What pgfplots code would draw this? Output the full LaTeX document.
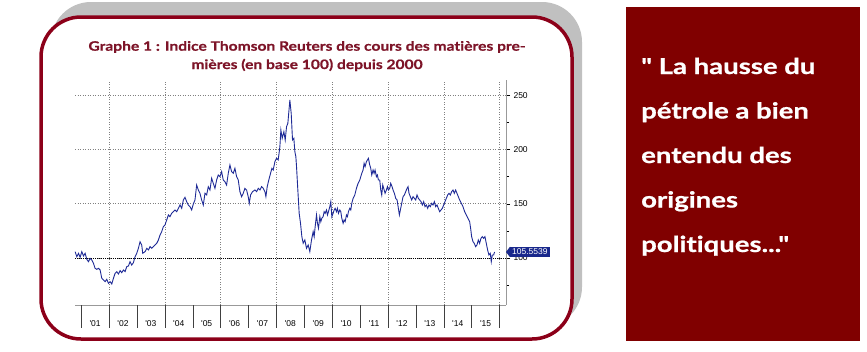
\documentclass[border=0pt]{standalone}
\usepackage{fontspec}
\usepackage{pgfplots}
\pgfplotsset{compat=1.18}
\setmainfont{Liberation Sans}
\newfontfamily\gill{Lato}[FakeStretch=1.2, Ligatures=NoCommon, BoldFeatures={FakeBold=0.6}]
\newfontfamily\gillq{Lato}[FakeStretch=1.25, Ligatures=NoCommon, BoldFeatures={FakeBold=0.8}]
\newfontfamily\tickfont{Liberation Sans}
\definecolor{framecol}{RGB}{140,0,25}
\definecolor{titlecol}{RGB}{125,20,40}
\definecolor{boxred}{RGB}{128,0,0}
\definecolor{shadowcol}{RGB}{192,192,192}
\definecolor{linecol}{RGB}{30,42,150}
\definecolor{tagblue}{RGB}{25,40,140}
\begin{document}
\begin{tikzpicture}
\useasboundingbox (0,0) rectangle (867pt,-351pt);
\fill[shadowcol, rounded corners=40pt] (51pt,-2pt) rectangle (582pt,-327pt);
\draw[framecol, line width=3.5pt, fill=white, rounded corners=40pt] (41pt,-17pt) rectangle (572pt,-339pt);
\fill[boxred] (626pt,-7pt) rectangle (860pt,-341pt);
\node[titlecol, font=\gill\bfseries\fontsize{13}{15}\selectfont, anchor=base, inner sep=0pt] at (307pt,-50.7pt) {Graphe 1 : Indice Thomson Reuters des cours des matières pre-};
\node[titlecol, font=\gill\bfseries\fontsize{13}{15}\selectfont, anchor=base, inner sep=0pt] at (307pt,-69pt) {mières (en base 100) depuis 2000};
\begin{scope}[every node/.style={white, font=\gillq\bfseries\fontsize{22}{26}\selectfont, anchor=base west, inner sep=0pt}]
\node at (641pt,-74pt) {" La hausse du};
\node at (641pt,-118.5pt) {pétrole a bien};
\node at (641pt,-163pt) {entendu des};
\node at (641pt,-207.5pt) {origines};
\node at (641pt,-252pt) {politiques..."};
\end{scope}
\begin{axis}[
  at={(75pt,-305pt)}, anchor=south west, scale only axis,
  width=431pt, height=225pt,
  xmin=2000.78, xmax=2016.23, ymin=56.7, ymax=263.9,
  clip=false,
  axis x line*=bottom, axis y line*=right,
  axis line style={gray!80, -},
  tick align=outside,
  major tick length=4pt, minor tick length=3pt,
  ytick={100,150,200,250},
  minor ytick={75,125,175,225},
  ymajorgrids,
  major grid style={gray, dash pattern=on 1pt off 1.5pt},
  ytick style={black},
  minor tick style={gray},
  xtick={2001.5,2002.5,2003.5,2004.5,2005.5,2006.5,2007.5,2008.5,2009.5,2010.5,2011.5,2012.5,2013.5,2014.5,2015.5},
  xticklabels={\textquotesingle01,\textquotesingle02,\textquotesingle03,\textquotesingle04,\textquotesingle05,\textquotesingle06,\textquotesingle07,\textquotesingle08,\textquotesingle09,\textquotesingle10,\textquotesingle11,\textquotesingle12,\textquotesingle13,\textquotesingle14,\textquotesingle15},
  xtick style={draw=none},
  xticklabel style={font=\tickfont\fontsize{8.5}{10}\selectfont, yshift=-8pt},
  yticklabel style={font=\tickfont\fontsize{8.5}{10}\selectfont},
  /pgf/number format/assume math mode=true,
]
\pgfplotsinvokeforeach{2002,2004,...,2016}{\draw[gray, dash pattern=on 1pt off 1.5pt] (axis cs:#1,56.7) -- (axis cs:#1,263.9);}
\pgfplotsinvokeforeach{2001,...,2016}{\draw[gray!50!black] (axis cs:#1,56.7) -- ++(0pt,-23pt);}
\draw[black, dash pattern=on 1pt off 1pt] (axis cs:2000.78,100) -- (axis cs:2016.23,100);
\addplot[linecol, line width=0.9pt] coordinates {
(2000.785,105.83) (2000.845,101.23) (2000.905,104.30) (2000.964,100.61) (2001.024,105.83) (2001.084,101.84) (2001.143,104.30) (2001.203,98.77) (2001.263,96.62) (2001.322,99.69) (2001.382,98.16) (2001.442,95.09) (2001.501,90.48) (2001.561,89.56) (2001.621,90.48) (2001.680,88.95) (2001.740,81.28) (2001.800,79.74) (2001.859,78.21) (2001.919,80.36) (2001.979,76.67) (2002.038,78.21) (2002.098,76.06) (2002.158,81.28) (2002.217,85.88) (2002.277,87.42) (2002.337,85.27) (2002.396,88.34) (2002.456,86.49) (2002.516,88.95) (2002.575,87.42) (2002.635,92.02) (2002.695,92.63) (2002.754,96.62) (2002.814,93.55) (2002.874,95.70) (2002.933,101.23) (2002.993,104.30) (2003.052,108.90) (2003.112,115.04) (2003.172,111.97) (2003.208,104.30) (2003.291,105.83) (2003.351,108.90) (2003.411,107.37) (2003.470,110.43) (2003.530,108.90) (2003.590,110.43) (2003.649,111.97) (2003.709,113.50) (2003.769,116.57) (2003.828,121.18) (2003.888,124.25) (2003.948,128.85) (2004.007,130.39) (2004.067,134.99) (2004.127,139.59) (2004.186,138.06) (2004.246,141.13) (2004.306,142.66) (2004.365,144.20) (2004.425,142.66) (2004.485,145.73) (2004.544,148.80) (2004.604,145.73) (2004.664,153.41) (2004.723,155.86) (2004.783,151.87) (2004.842,148.80) (2004.902,147.27) (2004.962,144.20) (2005.021,149.72) (2005.081,153.41) (2005.141,167.22) (2005.200,162.61) (2005.260,159.54) (2005.320,153.41) (2005.379,148.80) (2005.439,159.54) (2005.499,158.01) (2005.558,165.68) (2005.618,162.61) (2005.678,173.36) (2005.737,168.75) (2005.797,164.15) (2005.857,171.82) (2005.916,176.42) (2005.976,174.89) (2006.036,179.49) (2006.095,171.82) (2006.155,170.29) (2006.215,167.22) (2006.274,177.96) (2006.334,185.63) (2006.394,179.49) (2006.453,177.96) (2006.513,182.56) (2006.573,174.89) (2006.632,171.82) (2006.692,161.08) (2006.752,156.47) (2006.811,159.54) (2006.871,164.15) (2006.931,162.61) (2006.990,156.47) (2007.026,150.34) (2007.074,158.01) (2007.145,161.08) (2007.229,162.61) (2007.288,161.08) (2007.348,164.15) (2007.408,162.61) (2007.467,165.68) (2007.527,164.15) (2007.587,161.08) (2007.623,156.47) (2007.670,165.68) (2007.742,173.36) (2007.790,177.96) (2007.838,182.56) (2007.885,181.03) (2007.945,188.70) (2008.005,191.77) (2008.064,190.24) (2008.124,202.51) (2008.160,217.86) (2008.207,210.19) (2008.267,216.33) (2008.315,208.65) (2008.363,220.93) (2008.410,224.00) (2008.446,234.74) (2008.482,245.48) (2008.530,233.21) (2008.577,208.65) (2008.625,210.19) (2008.661,197.91) (2008.697,193.31) (2008.721,184.10) (2008.768,162.61) (2008.816,141.13) (2008.864,131.92) (2008.912,119.64) (2008.960,113.50) (2009.019,116.57) (2009.079,108.90) (2009.139,111.97) (2009.198,105.83) (2009.258,116.57) (2009.317,124.25) (2009.353,119.64) (2009.389,128.85) (2009.437,139.59) (2009.472,131.92) (2009.508,127.32) (2009.556,138.06) (2009.592,133.45) (2009.627,136.52) (2009.675,138.06) (2009.711,142.66) (2009.747,141.13) (2009.795,144.20) (2009.830,139.59) (2009.866,142.66) (2009.914,147.27) (2009.950,151.87) (2009.986,138.06) (2010.033,141.13) (2010.069,144.20) (2010.105,145.73) (2010.153,142.66) (2010.188,145.73) (2010.224,141.13) (2010.272,144.20) (2010.308,142.66) (2010.344,136.52) (2010.391,131.92) (2010.427,134.99) (2010.463,133.45) (2010.511,139.59) (2010.546,138.06) (2010.582,142.66) (2010.630,145.73) (2010.666,144.20) (2010.702,150.34) (2010.749,154.94) (2010.809,158.01) (2010.869,164.15) (2010.928,168.75) (2010.988,171.82) (2011.024,174.89) (2011.060,177.96) (2011.107,181.03) (2011.143,187.17) (2011.179,184.10) (2011.227,188.70) (2011.262,190.24) (2011.298,191.77) (2011.346,185.63) (2011.382,182.56) (2011.418,176.42) (2011.465,181.03) (2011.501,177.96) (2011.537,181.03) (2011.585,174.89) (2011.620,176.42) (2011.656,171.82) (2011.704,171.82) (2011.740,162.61) (2011.776,158.01) (2011.811,167.22) (2011.847,164.15) (2011.895,159.54) (2011.943,162.61) (2011.979,165.68) (2012.015,162.61) (2012.062,164.15) (2012.098,168.75) (2012.146,165.68) (2012.181,162.61) (2012.229,159.54) (2012.277,154.94) (2012.325,153.41) (2012.372,145.73) (2012.408,139.59) (2012.444,144.20) (2012.492,150.34) (2012.539,156.47) (2012.587,158.01) (2012.635,161.08) (2012.683,164.15) (2012.718,165.68) (2012.754,159.54) (2012.802,156.47) (2012.849,153.41) (2012.897,156.47) (2012.945,154.94) (2012.993,153.41) (2013.040,158.01) (2013.088,154.94) (2013.136,153.41) (2013.184,151.87) (2013.231,148.80) (2013.279,151.87) (2013.327,147.27) (2013.375,148.80) (2013.422,145.73) (2013.470,148.80) (2013.518,147.27) (2013.566,150.34) (2013.613,148.80) (2013.661,151.87) (2013.709,147.27) (2013.757,148.80) (2013.804,145.73) (2013.852,142.66) (2013.900,144.20) (2013.948,145.73) (2013.996,148.80) (2014.043,151.87) (2014.091,154.94) (2014.139,158.01) (2014.186,159.54) (2014.234,158.01) (2014.282,161.08) (2014.330,162.61) (2014.377,159.54) (2014.425,162.61) (2014.473,159.54) (2014.521,156.47) (2014.568,153.41) (2014.628,150.34) (2014.688,147.27) (2014.748,142.66) (2014.807,139.59) (2014.867,136.52) (2014.927,133.45) (2014.962,127.32) (2014.998,119.64) (2015.046,115.04) (2015.093,113.50) (2015.141,110.43) (2015.189,111.97) (2015.237,116.57) (2015.284,113.50) (2015.332,118.11) (2015.380,119.64) (2015.428,118.11) (2015.475,119.64) (2015.523,113.50) (2015.571,107.37) (2015.618,102.76) (2015.666,104.30) (2015.702,96.62) (2015.738,102.76) (2015.786,102.76) (2015.821,105.55)
};
\coordinate (tagpt) at (axis cs:2016.23,105.5539);
\end{axis}
\node[fill=tagblue, text=white, anchor=west, inner sep=2pt, font=\tickfont\fontsize{8.5}{10}\selectfont, xshift=4pt] (tag) at (tagpt) {105.5539};
\fill[tagblue] (tag.north west) -- ([xshift=-4pt]tag.west) -- (tag.south west) -- cycle;
\end{tikzpicture}
\end{document}
